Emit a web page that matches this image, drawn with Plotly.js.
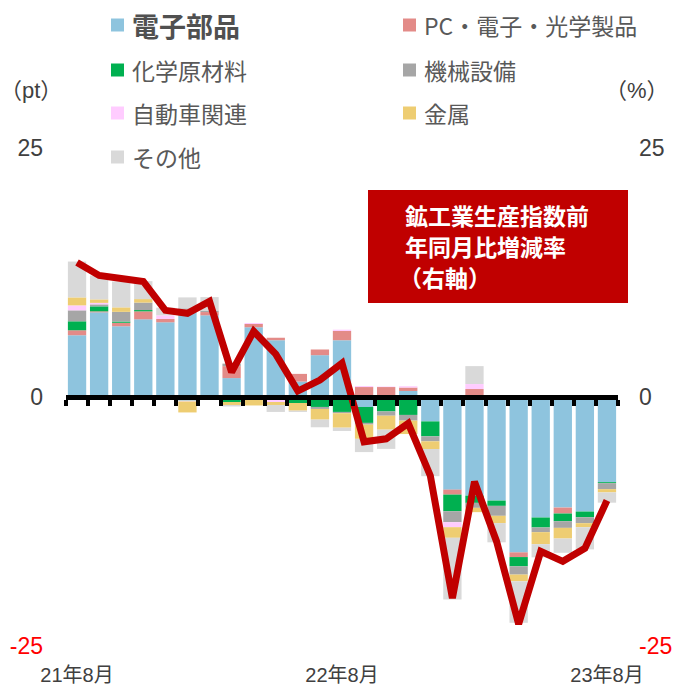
<!DOCTYPE html>
<html>
<head>
<meta charset="utf-8">
<script src="https://cdn.plot.ly/plotly-3.0.1.min.js"></script>
<style>html,body{margin:0;padding:0;background:#fff;}#chart{width:673px;height:688px;}</style>
</head>
<body>
<div id="chart"></div>
<script>
// ---- data ----
const months = ['21年8月','21年9月','21年10月','21年11月','21年12月','22年1月','22年2月','22年3月','22年4月','22年5月','22年6月','22年7月','22年8月','22年9月','22年10月','22年11月','22年12月','23年1月','23年2月','23年3月','23年4月','23年5月','23年6月','23年7月','23年8月'];
const tickLabels = ['21年8月','22年8月','23年8月'];

const seriesNames = ['電子部品','PC・電子・光学製品','化学原材料','機械設備','自動車関連','金属','その他'];
const electronicParts = [6.2, 8.5, 7.1, 7.8, 7.5, 8.7, 8.2, 1.9, 7.0, 5.7, 1.55, 4.2, 5.7, -1.0, 0, 0.6, -2.45, -9.3, -9.9, -10.4, -15.6, -12.1, -11.1, -11.5, -8.55];
const pcOptical = [0.5, 0.1, 0.35, 0.8, 0.33, 0.1, 0.33, 1.2, 0.33, 0.25, 0.77, 0.57, 0.93, 1.0, 1.0, 0.35, 0, -0.5, 0.8, 0, -0.47, 0, -0.6, 0, 0];
const chemicals = [0.9, 0.5, 0.13, 0.13, 0, -0.35, 0, -0.5, 0, 0, -0.6, -1.0, -1.5, -1.6, -1.45, -1.8, -1.5, -1.67, -0.73, -0.53, -0.93, -1.0, -0.77, -0.57, -0.1];
const machinery = [1.1, 0.2, 0.97, 0.75, 0, 0.1, 0.15, 0.25, 0, 0, 0, -0.2, -0.13, -0.17, -0.43, -0.57, -0.5, -1.1, -0.5, -1.0, -0.83, -0.47, -0.67, -0.6, -0.6];
const automotive = [0.5, 0.15, 0, 0, 0.37, -0.1, 0, 0, 0.1, -0.5, 0, 0, 0.13, 0.1, 0.05, 0.13, 0, -0.5, 0.5, 0, 0, 0.1, 0, 0.1, 0];
const metals = [0.8, 0.35, 0.45, 0.35, 0, -1.1, -0.3, -0.3, -0.85, -0.3, -0.77, -1.07, -1.45, -1.43, -1.4, -1.35, -0.77, -1.07, -0.43, -0.73, -0.67, -1.2, -1.07, -0.4, -0.33];
const others = [3.6, 2.4, 2.6, 1.8, 0.77, 1.1, 1.35, -0.15, 0, -0.7, -0.13, -0.77, -0.33, -1.33, -1.93, 0, -2.73, -6.2, 1.8, -1.93, -4.17, -1.33, -1.43, -2.23, -1.03];
const productionYoY = [13.5, 12.2, 11.9, 11.6, 8.7, 8.4, 9.6, 2.5, 6.6, 4.3, 0.6, 1.7, 3.4, -4.5, -4.2, -2.65, -7.9, -20.2, -8.5, -14.5, -22.8, -15.5, -16.5, -15.2, -10.4];
const lineName = '鉱工業生産指数前年同月比増減率（右軸）';
const noteLines = ['鉱工業生産指数前', '年同月比増減率', '（右軸）'];
const yTicks = [-25, 0, 25];

const seriesValues = [electronicParts, pcOptical, chemicals, machinery, automotive, metals, others];
const colors = ['#8EC4DE', '#E38B88', '#00B050', '#A6A6A6', '#FFCCFF', '#EECD72', '#D9D9D9'];

// ---- layout geometry ----
const W = 673, H = 688;
const M = {l: 66, r: 55, t: 148, b: 42};
const PW = W - M.l - M.r, PH = H - M.t - M.b;
const px = x => (x - M.l) / PW;
const py = y => (H - M.b - y) / PH;

const FONT = 'Liberation Sans, Arial, Noto Sans CJK JP, sans-serif';
const TXT = '#404040';

const traces = seriesNames.map((name, i) => ({
  type: 'bar', name: name, x: months, y: seriesValues[i],
  marker: {color: colors[i], line: {width: 0}},
  showlegend: false, hoverinfo: 'x+y+name'
}));
traces.push({
  type: 'scatter', mode: 'lines', name: lineName, x: months, y: productionYoY,
  xaxis: 'x2', yaxis: 'y2',
  line: {color: '#C00000', width: 7, shape: 'linear'},
  showlegend: false
});

// legend built from series names & colours
const shapes = [];
const annotations = [];
const legendColX = [111, 403];
const legendRowY = [25, 70, 113, 157];
const sq = 13;
seriesNames.forEach((name, i) => {
  const cx = legendColX[i % 2], cy = legendRowY[Math.floor(i / 2)];
  shapes.push({type: 'rect', xref: 'paper', yref: 'paper',
    x0: px(cx), x1: px(cx + sq), y0: py(cy + sq / 2), y1: py(cy - sq / 2),
    fillcolor: colors[i], line: {width: 0}});
  annotations.push({xref: 'paper', yref: 'paper', x: px(cx + sq + 6), y: py(cy),
    xanchor: 'left', yanchor: 'middle', showarrow: false,
    text: i === 0 ? '<b>' + name + '</b>' : name,
    font: {family: 'Noto Sans CJK JP, Liberation Sans, sans-serif', size: i === 0 ? 27 : 23, color: i === 0 ? '#505050' : '#595959'}});
});

// red note box
shapes.push({type: 'rect', xref: 'paper', yref: 'paper', x0: px(368), x1: px(628), y0: py(303), y1: py(190),
  fillcolor: '#C00000', line: {width: 0}, layer: 'above'});
const noteY = [215, 246, 277];
noteLines.forEach((t, i) => {
  annotations.push({xref: 'paper', yref: 'paper', x: px(i === 2 ? 398 : 404), y: py(noteY[i]), xanchor: 'left', yanchor: 'middle',
    showarrow: false, align: 'left', borderpad: 0,
    text: '<b>' + t + '</b>',
    font: {family: 'Noto Sans CJK JP, sans-serif', size: 23, color: '#FFFFFF'}});
});

// unit labels
annotations.push({xref: 'paper', yref: 'paper', x: px(31), y: py(91), xanchor: 'center', yanchor: 'middle',
  showarrow: false, text: '（pt）', font: {family: FONT, size: 22, color: TXT}});
annotations.push({xref: 'paper', yref: 'paper', x: px(637), y: py(91), xanchor: 'center', yanchor: 'middle',
  showarrow: false, text: '（%）', font: {family: FONT, size: 22, color: TXT}});

const yTickText = yTicks.map(v => v < 0 ? '<span style="color:#FF0000">' + v + '</span>' : String(v));

const layout = {
  width: W, height: H,
  margin: M,
  paper_bgcolor: '#FFFFFF', plot_bgcolor: '#FFFFFF',
  font: {family: FONT, color: TXT},
  barmode: 'relative', bargap: 0.17,
  showlegend: false,
  xaxis: {type: 'category', range: [-0.5, months.length - 0.5], tickmode: 'array', tickvals: tickLabels, ticktext: tickLabels,
    ticks: '', showline: false, showgrid: false, zeroline: false, ticklabelstandoff: 15,
    tickfont: {family: FONT, size: 20, color: TXT}, fixedrange: true},
  xaxis2: {type: 'category', overlaying: 'x', anchor: 'free', position: 0.5,
    range: [-0.5, months.length - 0.5], showline: true, linecolor: '#000000', linewidth: 5,
    ticks: 'outside', tickson: 'boundaries', tickmode: 'linear', tick0: 0, dtick: 1,
    ticklen: 6, tickwidth: 4, tickcolor: '#000000', showticklabels: false, showgrid: false, zeroline: false},
  yaxis: {range: [-25, 25], tickmode: 'array', tickvals: yTicks, ticktext: yTickText, ticks: '',
    showgrid: false, zeroline: false, showline: false, ticklabelstandoff: 22,
    tickfont: {family: FONT, size: 23, color: TXT}},
  yaxis2: {range: [-25, 25], overlaying: 'y', side: 'right', tickmode: 'array', tickvals: yTicks, ticktext: yTickText, ticks: '',
    showgrid: false, zeroline: false, showline: false, ticklabelstandoff: 20,
    tickfont: {family: FONT, size: 23, color: TXT}},
  shapes: shapes,
  annotations: annotations
};

Plotly.newPlot('chart', traces, layout, {displayModeBar: false, staticPlot: true});
</script>
</body>
</html>
